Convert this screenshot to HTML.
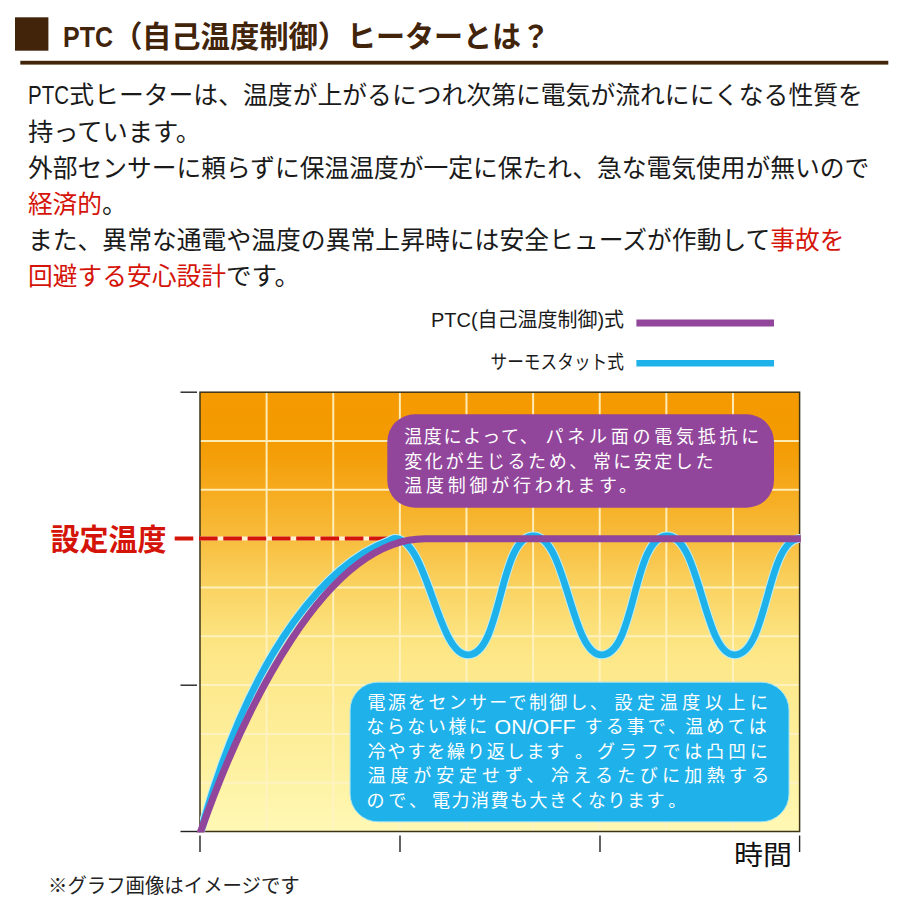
<!DOCTYPE html>
<html lang="ja"><head><meta charset="utf-8"><title>PTC（自己温度制御）ヒーターとは？</title>
<style>
html,body{margin:0;padding:0;background:#fff}
body{width:900px;height:900px;position:relative;overflow:hidden;font-family:"Liberation Sans",sans-serif}
svg{position:absolute;left:0;top:0;display:block}
svg text{font-family:"Liberation Sans","Noto Sans CJK JP",sans-serif}
.t{position:absolute;margin:0;white-space:nowrap;color:transparent;font-family:"Liberation Sans",sans-serif;font-weight:normal;z-index:2}
</style></head><body>
<svg width="900" height="900" viewBox="0 0 900 900">

<rect x="15" y="17.3" width="33.4" height="33.4" fill="#42240b"/>
<rect x="20.3" y="60.8" width="868" height="3.8" fill="#42240b"/>


<defs>
<linearGradient id="bg" x1="0" y1="0" x2="0" y2="1">
<stop offset="0.000" stop-color="#f59a00"/><stop offset="0.109" stop-color="#f49b02"/><stop offset="0.166" stop-color="#f4a10e"/><stop offset="0.223" stop-color="#f6ab1e"/><stop offset="0.323" stop-color="#f7bb3a"/><stop offset="0.439" stop-color="#fad260"/><stop offset="0.553" stop-color="#fce37f"/><stop offset="0.621" stop-color="#fde88a"/><stop offset="0.837" stop-color="#fdf09e"/><stop offset="0.906" stop-color="#fef4a8"/><stop offset="1.000" stop-color="#fff8b5"/>
</linearGradient>
<radialGradient id="glow" cx="0.62" cy="0.62" r="0.55">
<stop offset="0" stop-color="#fff3b0" stop-opacity="0.4"/><stop offset="1" stop-color="#fff7c0" stop-opacity="0"/>
</radialGradient>
<clipPath id="cp"><rect x="190" y="380" width="611" height="452.4"/></clipPath>
<clipPath id="cc"><rect x="200.0" y="392.2" width="600.0" height="439.3"/></clipPath>
</defs>
<rect x="200.0" y="392.2" width="599.6" height="439.3" fill="url(#bg)"/>
<g stroke="#fff3c4" stroke-width="2" fill="none" opacity="0.92"><path d="M266.62 392.20V831.50"/><path d="M333.24 392.20V831.50"/><path d="M399.87 392.20V831.50"/><path d="M466.49 392.20V831.50"/><path d="M533.11 392.20V831.50"/><path d="M599.73 392.20V831.50"/><path d="M666.36 392.20V831.50"/><path d="M732.98 392.20V831.50"/><path d="M200.00 441.01H799.60"/><path d="M200.00 489.82H799.60"/><path d="M200.00 538.63H799.60"/><path d="M200.00 587.44H799.60"/><path d="M200.00 636.26H799.60"/><path d="M200.00 685.07H799.60"/><path d="M200.00 733.88H799.60"/><path d="M200.00 782.69H799.60"/></g>
<rect x="200.0" y="392.2" width="599.6" height="439.3" fill="none" stroke="#3d3418" stroke-width="1.5"/>
<g stroke="#222" stroke-width="1.4" fill="none">
<path d="M180.5 392.2H197"/><path d="M180.5 685.2H197"/><path d="M180.5 831.5H200"/>
<path d="M200 835.5V852"/><path d="M400 835.5V852"/><path d="M600 835.5V852"/><path d="M799.6 835.5V852"/>
</g>
<path d="M200 538.5H392" stroke="#fff0d6" stroke-width="4" fill="none"/>
<path d="M174.7 538.5H392" stroke="#d51409" stroke-width="4.1" stroke-dasharray="18.6 5.7" fill="none"/>
<g clip-path="url(#cc)" fill="none" stroke-linecap="butt" stroke-linejoin="round">
<path d="M200.7 831.5 C 253.7 639.9 333.2 561.2 388 541.2 C 390.5 540.3 392.3 538.4 394.6 538.4C427.90 538.40 437.00 654.90 468.00 654.90C502.00 654.90 498.60 536.00 533.40 536.00C566.70 536.00 570.70 654.90 601.70 654.90C635.70 654.90 632.40 536.00 667.20 536.00C700.50 536.00 703.50 654.90 734.50 654.90C768.50 654.90 765.80 538.40 800.60 538.40" stroke="#b9effa" stroke-width="8.8"/>
<path d="M200.7 831.5 C 253.7 639.9 333.2 561.2 388 541.2 C 390.5 540.3 392.3 538.4 394.6 538.4C427.90 538.40 437.00 654.90 468.00 654.90C502.00 654.90 498.60 536.00 533.40 536.00C566.70 536.00 570.70 654.90 601.70 654.90C635.70 654.90 632.40 536.00 667.20 536.00C700.50 536.00 703.50 654.90 734.50 654.90C768.50 654.90 765.80 538.40 800.60 538.40" stroke="#1fb2ea" stroke-width="6.8"/>
</g>
<path d="M199.2 835.7 L 200.7 831.5 C 243.9 709 325.4 538.8 424.9 538.8 L 800.8 538.8" stroke="#92469b" stroke-width="7" fill="none" stroke-linejoin="round" clip-path="url(#cp)"/>
<rect x="387.3" y="414.3" width="386.7" height="93.4" rx="27.5" fill="#92469b"/>
<rect x="350.1" y="682.2" width="438.9" height="139.6" rx="28" fill="#1fb2ea" stroke="#9fe2f5" stroke-width="1"/>
<path d="M636.4 323H774" stroke="#92469b" stroke-width="6.8"/>
<path d="M636.4 363.3H774" stroke="#1fb2ea" stroke-width="6.6"/>

<g font-size="30" font-weight="bold" fill="#42240b">
<text x="63" y="46.8" textLength="50" lengthAdjust="spacingAndGlyphs">PTC</text>
<text x="112.5" y="46.8">（</text>
<text x="141.9" y="46.8" textLength="176" lengthAdjust="spacingAndGlyphs">自己温度制御</text>
<text x="317.7" y="46.8">）</text>
<text x="347" y="46.8" textLength="203" lengthAdjust="spacingAndGlyphs">ヒーターとは？</text>
</g>

<g font-size="25" fill="#1a1a1a">
<text x="28" y="104.3" textLength="41" lengthAdjust="spacingAndGlyphs">PTC</text>
<text x="69.3" y="104.3" textLength="793.6" lengthAdjust="spacingAndGlyphs">式ヒーターは、温度が上がるにつれ次第に電気が流れににくなる性質を</text>
<text x="27.9" y="140.5" textLength="173.2" lengthAdjust="spacingAndGlyphs">持っています。</text>
<text x="27.9" y="176.7" textLength="841.5" lengthAdjust="spacingAndGlyphs">外部センサーに頼らずに保温温度が一定に保たれ、急な電気使用が無いので</text>
<text x="27.9" y="212.9" fill="#d51409" textLength="74.2" lengthAdjust="spacingAndGlyphs">経済的</text>
<text x="102.1" y="212.9">。</text>
<text x="27.9" y="249.1" textLength="742.5" lengthAdjust="spacingAndGlyphs">また、異常な通電や温度の異常上昇時には安全ヒューズが作動して</text>
<text x="770.3" y="249.1" fill="#d51409" textLength="74.2" lengthAdjust="spacingAndGlyphs">事故を</text>
<text x="27.9" y="285.3" fill="#d51409" textLength="198" lengthAdjust="spacingAndGlyphs">回避する安心設計</text>
<text x="225.9" y="285.3" textLength="74.2" lengthAdjust="spacingAndGlyphs">です。</text>
</g>

<text x="431" y="327.4" font-size="20" fill="#1a1a1a" textLength="193" lengthAdjust="spacingAndGlyphs">PTC(自己温度制御)式</text>
<text x="490.5" y="368.8" font-size="19.5" fill="#1a1a1a" textLength="133.5" lengthAdjust="spacingAndGlyphs">サーモスタット式</text>

<text x="50.5" y="549.7" font-size="30" font-weight="bold" fill="#d51409" textLength="116" lengthAdjust="spacingAndGlyphs">設定温度</text>

<g font-size="18" fill="#fff">
<text x="404.2" y="443.3" textLength="133.6">温度によって、</text>
<text x="545.6" y="443.3" textLength="213.7">パネル面の電気抵抗に</text>
<text x="404.2" y="467.7" textLength="183.1">変化が生じるため、</text>
<text x="592.7" y="467.7" textLength="120.7">常に安定した</text>
<text x="404.2" y="492.1" textLength="232.8">温度制御が行われます。</text>

<text x="367.5" y="708.9" textLength="240.3">電源をセンサーで制御し、</text>
<text x="614.5" y="708.9" textLength="153.6">設定温度以上に</text>
<text x="366.3" y="733.3" textLength="120.6">ならない様に</text>
<text x="494.5" y="733.7" font-size="20" textLength="81" lengthAdjust="spacingAndGlyphs">ON/OFF</text>
<text x="584.6" y="733.3" textLength="101.5">する事で、</text>
<text x="685.2" y="733.3" textLength="81.5">温めては</text>
<text x="367.8" y="757.7" textLength="196.4">冷やすを繰り返します</text>
<text x="575" y="757.7">。</text>
<text x="597.1" y="757.7" textLength="170.6">グラフでは凸凹に</text>
<text x="367.7" y="782.1" textLength="176.6">温度が安定せず、</text>
<text x="550.9" y="782.1" textLength="218.4">冷えるたびに加熱する</text>
<text x="366.6" y="806.5" textLength="60.4">ので、</text>
<text x="432" y="806.5" textLength="232.4">電力消費も大きくなります</text>
<text x="668.2" y="806.5">。</text>
</g>

<text x="734" y="865" font-size="27.5" fill="#111" textLength="58" lengthAdjust="spacingAndGlyphs">時間</text>
<text x="48" y="893" font-size="20" fill="#222" textLength="251.7" lengthAdjust="spacingAndGlyphs">※グラフ画像はイメージです</text>
</svg>

<h1 class="t" style="left:63px;top:14px;font-size:30px;font-weight:bold">PTC（自己温度制御）ヒーターとは？</h1>
<p class="t" style="left:28px;top:78px;font-size:25px;line-height:35.8px;width:860px">PTC式ヒーターは、温度が上がるにつれ次第に電気が流れににくなる性質を<br>持っています。<br>外部センサーに頼らずに保温温度が一定に保たれ、急な電気使用が無いので<br><span>経済的</span>。<br>また、異常な通電や温度の異常上昇時には安全ヒューズが作動して<span>事故を</span><br><span>回避する安心設計</span>です。</p>
<div class="t" style="left:432px;top:310px;font-size:19px">PTC(自己温度制御)式</div>
<div class="t" style="left:491px;top:350px;font-size:19px">サーモスタット式</div>
<div class="t" style="left:51px;top:522px;font-size:29px;font-weight:bold">設定温度</div>
<div class="t" style="left:405px;top:424px;font-size:18px;line-height:24.4px">温度によって、パネル面の電気抵抗に<br>変化が生じるため、常に安定した<br>温度制御が行われます。</div>
<div class="t" style="left:369px;top:690px;font-size:18px;line-height:24.4px">電源をセンサーで制御し、設定温度以上に<br>ならない様に ON/OFF する事で、温めては<br>冷やすを繰り返します。グラフでは凸凹に<br>温度が安定せず、冷えるたびに加熱する<br>ので、電力消費も大きくなります。</div>
<div class="t" style="left:736px;top:838px;font-size:27px">時間</div>
<div class="t" style="left:51px;top:874px;font-size:19px">※グラフ画像はイメージです</div>

</body></html>
